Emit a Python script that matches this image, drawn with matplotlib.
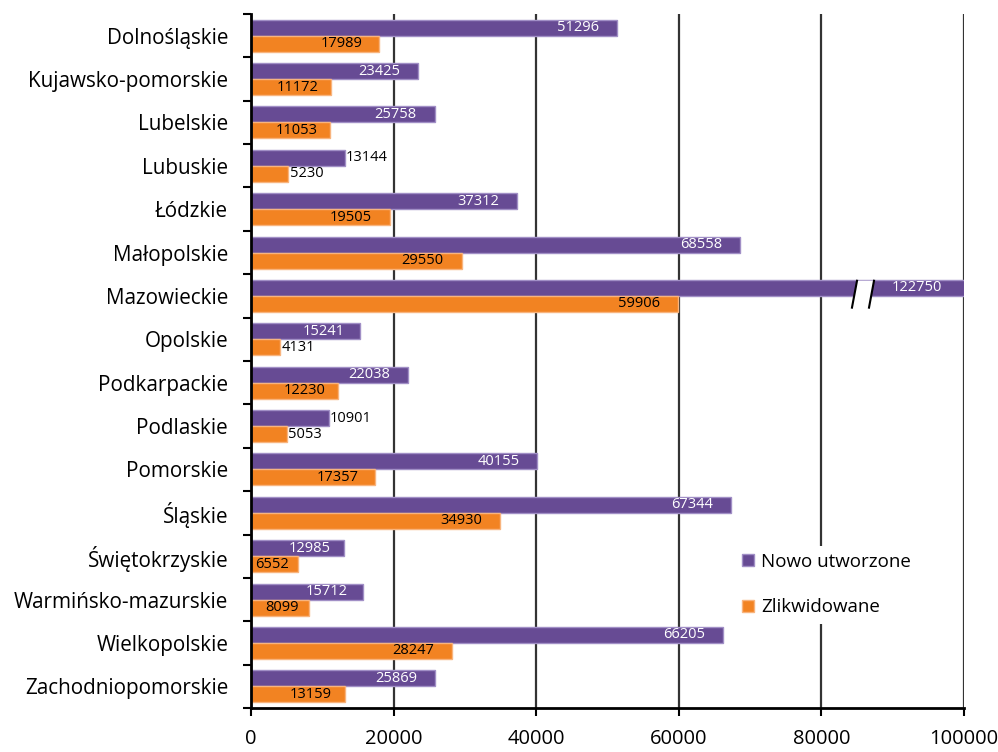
import matplotlib
matplotlib.use('Agg')
import matplotlib.pyplot as plt
from matplotlib.patches import Polygon
import numpy as np

plt.rcParams['font.family'] = ['Open Sans', 'DejaVu Sans']

# dane: nowo utworzone i zlikwidowane podmioty wg województw
regions = ['Dolnośląskie', 'Kujawsko-pomorskie', 'Lubelskie', 'Lubuskie', 'Łódzkie',
           'Małopolskie', 'Mazowieckie', 'Opolskie', 'Podkarpackie', 'Podlaskie',
           'Pomorskie', 'Śląskie', 'Świętokrzyskie', 'Warmińsko-mazurskie',
           'Wielkopolskie', 'Zachodniopomorskie']
new_firms = [51296, 23425, 25758, 13144, 37312, 68558, 122750, 15241, 22038, 10901,
             40155, 67344, 12985, 15712, 66205, 25869]
closed_firms = [17989, 11172, 11053, 5230, 19505, 29550, 59906, 4131, 12230, 5053,
                17357, 34930, 6552, 8099, 28247, 13159]
x_ticks = [0, 20000, 40000, 60000, 80000, 100000]

# etykiety, które nie mieszczą się w słupku
outside_new = ['Lubuskie', 'Podlaskie']
outside_closed = ['Lubuskie', 'Opolskie', 'Podlaskie']

purple = '#674B94'
orange = '#F28322'
x_max = 100000

fig = plt.figure(figsize=(9.98, 7.52), dpi=100)
ax = fig.add_axes([0.2515, 0.0585, 0.7144, 0.9229])
axis_px = 0.7144 * 998

y = np.arange(len(regions))
h = 0.37
off = 0.185
ax.barh(y - off, new_firms, height=h, color=purple, edgecolor='#A18FC6',
        linewidth=1, label='Nowo utworzone', zorder=3)
ax.barh(y + off, closed_firms, height=h, color=orange, edgecolor='#F8B47E',
        linewidth=1, label='Zlikwidowane', zorder=3)

# wartości przy słupkach
for i, r in enumerate(regions):
    for vals, outside, dy, incol in [(new_firms, outside_new, -off, 'white'),
                                     (closed_firms, outside_closed, off, 'black')]:
        v = vals[i]
        xv = min(v, x_max)
        if r in outside:
            ax.annotate(str(v), (xv, i + dy), xytext=(1, 0), textcoords='offset points',
                        ha='left', va='center', color='black', fontsize=10.5, zorder=5)
        else:
            w_px = xv / x_max * axis_px
            gap = min(18, 4 + 0.1 * w_px) + (4 if v > x_max else 0)
            ax.annotate(str(v), (xv, i + dy), xytext=(-gap * 0.72, 0), textcoords='offset points',
                        ha='right', va='center', color=incol, fontsize=10.5, zorder=5)

# przerwanie słupka Mazowieckie
ax.add_patch(Polygon([(85000, 5.65), (87380, 5.65), (86680, 6.27), (84290, 6.27)],
                     closed=True, facecolor='white', edgecolor='none', zorder=4))
ax.plot([84290, 85000], [6.27, 5.65], color='black', lw=1.5, zorder=4)
ax.plot([86680, 87380], [6.27, 5.65], color='black', lw=1.5, zorder=4)

ax.set_xlim(0, x_max)
ax.set_ylim(len(regions) - 0.5, -0.5)
ax.set_xticks(x_ticks)
ax.set_xticklabels([str(t) for t in x_ticks])
ax.tick_params(axis='x', labelsize=14.5, length=6, width=1.5, pad=9)

ax.set_yticks(y)
ax.set_yticklabels(regions, fontsize=14.9)
ax.set_yticks(np.arange(-0.5, len(regions), 1), minor=True)
ax.tick_params(axis='y', which='major', length=0, pad=16.5)
ax.tick_params(axis='y', which='minor', length=6, width=1.5, direction='out')

ax.grid(axis='x', color='#333333', lw=1.6)
ax.set_axisbelow(True)
for s in ['top', 'right']:
    ax.spines[s].set_visible(False)
for s in ['left', 'bottom']:
    ax.spines[s].set_linewidth(2)
    ax.spines[s].set_zorder(6)

ax.legend(loc='upper left', bbox_to_anchor=(0.727, 0.287), bbox_transform=fig.transFigure,
          frameon=True, edgecolor='none', facecolor='white', framealpha=1, fontsize=13.5,
          handlelength=0.6, handleheight=0.6, handletextpad=0.4, labelspacing=1.45)

fig.savefig('out.png', dpi=100)
